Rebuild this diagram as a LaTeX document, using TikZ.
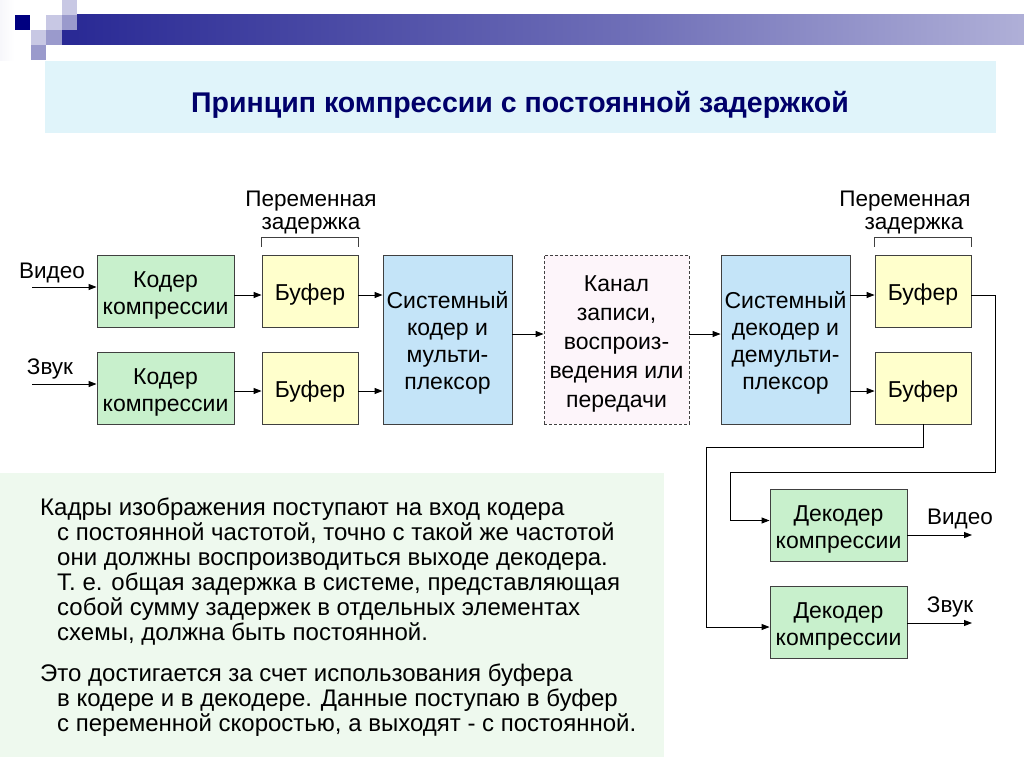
\documentclass[tikz,border=0pt]{standalone}
\usepackage{fontspec}
\setmainfont{Liberation Sans}
\usetikzlibrary{arrows.meta}
\definecolor{navy}{HTML}{000080}
\definecolor{barmid}{HTML}{7070B8}
\definecolor{sqlight}{HTML}{C8C8E4}
\definecolor{sqmed}{HTML}{9A9ACC}
\definecolor{titleband}{HTML}{E0F4FA}
\definecolor{titletext}{HTML}{00006A}
\definecolor{notepanel}{HTML}{EEF9EE}
\definecolor{gfill}{HTML}{C8F0CC}
\definecolor{yfill}{HTML}{FFFFCC}
\definecolor{bfill}{HTML}{C4E4F8}
\definecolor{pfill}{HTML}{FDF5FA}
\definecolor{bord}{HTML}{404040}
\pgfdeclarehorizontalshading{barshade}{100bp}{color(0bp)=(navy); color(8bp)=(navy); color(55bp)=(barmid); color(100bp)=(white)}
\newcommand{\boxtxt}[1]{\raisebox{-4.5pt}[\height][\depth]{\begin{tabular}{@{}c@{}}#1\end{tabular}}}
\begin{document}
\begin{tikzpicture}[x=1pt,y=-1pt,
  basebox/.style={draw=bord, line width=0.9pt, inner sep=0pt,
    font=\fontsize{23}{27}\selectfont},
  coderbox/.style={basebox, fill=gfill, minimum width=137pt, minimum height=72pt},
  bufbox/.style={basebox, fill=yfill, minimum width=96pt, minimum height=72pt},
  sysbox/.style={basebox, fill=bfill, minimum width=129pt, minimum height=169pt},
  chanbox/.style={basebox, fill=pfill, dash pattern=on 3pt off 2pt,
    minimum width=145pt, minimum height=169pt, font=\fontsize{23}{29}\selectfont},
  arr/.style={-{Triangle[length=8pt,width=6pt]}, line width=0.9pt},
  lbl/.style={anchor=base, inner sep=0pt, font=\fontsize{22.5}{25}\selectfont},
  notetext/.style={anchor=base west, inner sep=0pt, font=\fontsize{24}{25}\selectfont},
  bracket/.style={line width=0.9pt, draw=bord}]
\useasboundingbox (0,0) rectangle (1024,768);
\fill[white] (0,0) rectangle (1024,768);
% top decoration
\shade[left color=white!85!sqlight, right color=white] (0,0) rectangle (14,60);
\shade[shading=barshade] (62,15) rectangle (1024,45);
\fill[sqlight] (62,0) rectangle (77,15);
\fill[navy] (15,15) rectangle (30,30);
\fill[sqlight] (46,15) rectangle (62,30);
\fill[sqmed] (62,15) rectangle (77,30);
\fill[sqlight] (31,30) rectangle (46,45);
\fill[sqmed] (46,30) rectangle (62,45);
\fill[sqmed] (31,45) rectangle (46,60);
% title
\fill[titleband] (45,61) rectangle (996,133);
\node[anchor=base, inner sep=0pt, text=titletext, font=\fontsize{28.5}{30}\selectfont\bfseries] (title) at (520,112) {Принцип компрессии с постоянной задержкой};
% note panel
\fill[notepanel] (0,473) rectangle (664,757);
\node[notetext] (t1) at (40,515) {Кадры изображения поступают на вход кодера};
\node[notetext] (t2) at (57,540) {с постоянной частотой, точно с такой же частотой};
\node[notetext] (t3) at (57,565) {они должны воспроизводиться выходе декодера.};
\node[notetext] (t4) at (57,590) {Т. е. общая задержка в системе, представляющая};
\node[notetext] (t5) at (57,615) {собой сумму задержек в отдельных элементах};
\node[notetext] (t6) at (57,640) {схемы, должна быть постоянной.};
\node[notetext] (t7) at (40,681) {Это достигается за счет использования буфера};
\node[notetext] (t8) at (57,706) {в кодере и в декодере. Данные поступаю в буфер};
\node[notetext] (t9) at (57,731) {с переменной скоростью, а выходят - с постоянной.};
% boxes
\node[coderbox] (cod1) at (165.5,291) {\boxtxt{Кодер\\компрессии}};
\node[coderbox] (cod2) at (165.5,388) {\boxtxt{Кодер\\компрессии}};
\node[bufbox] (buf1) at (310,291) {\boxtxt{Буфер}};
\node[bufbox] (buf2) at (310,388) {\boxtxt{Буфер}};
\node[sysbox] (sys) at (447.5,339.5) {\boxtxt{Системный\\кодер и\\мульти-\\плексор}};
\node[chanbox] (kan) at (616.5,339.5) {\boxtxt{Канал\\записи,\\воспроиз-\\ведения или\\передачи}};
\node[sysbox] (sdec) at (785.5,339.5) {\boxtxt{Системный\\декодер и\\демульти-\\плексор}};
\node[bufbox] (buf3) at (923,291) {\boxtxt{Буфер}};
\node[bufbox] (buf4) at (923,388) {\boxtxt{Буфер}};
\node[coderbox] (dec1) at (838.5,525.5) {\boxtxt{Декодер\\компрессии}};
\node[coderbox] (dec2) at (838.5,622) {\boxtxt{Декодер\\компрессии}};
% labels
\node[lbl] (lv) at (52,278) {Видео};
\node[lbl] (la) at (50,374) {Звук};
\node[lbl] (rv) at (960,524) {Видео};
\node[lbl] (ra) at (950,612) {Звук};
\node[lbl] (pz1a) at (311,206) {Переменная};
\node[lbl] (pz1b) at (311,229) {задержка};
\node[lbl] (pz2a) at (905,206) {Переменная};
\node[lbl] (pz2b) at (914,229) {задержка};
% brackets
\draw[bracket] ([yshift=8pt]buf1.north west) -- ++(0,-9) -| ([yshift=8pt]buf1.north east);
\draw[bracket] ([yshift=8pt]buf3.north west) -- ++(0,-9) -| ([yshift=8pt]buf3.north east);
% helper coordinates
\coordinate (ya) at (0,295);
\coordinate (yb) at (0,391);
\coordinate (yc) at (0,334);
\coordinate (vin) at (32,287);
\coordinate (ain) at (32,384);
\coordinate (rA) at (995,472);
\coordinate (rB) at (730,472);
\coordinate (lA) at (706,447);
\coordinate (vout) at (972,535);
\coordinate (aout) at (972,623);
% connectors
\draw[arr] (vin) -- (cod1.west |- vin);
\draw[arr] (ain) -- (cod2.west |- ain);
\draw[arr] (cod1.east |- ya) -- (buf1.west |- ya);
\draw[arr] (buf1.east |- ya) -- (sys.west |- ya);
\draw[arr] (cod2.east |- yb) -- (buf2.west |- yb);
\draw[arr] (buf2.east |- yb) -- (sys.west |- yb);
\draw[arr] (sys.east |- yc) -- (kan.west |- yc);
\draw[arr] (kan.east |- yc) -- (sdec.west |- yc);
\draw[arr] (sdec.east |- ya) -- (buf3.west |- ya);
\draw[arr] (sdec.east |- yb) -- (buf4.west |- yb);
\draw[arr] (buf3.east |- ya) -| (rA) -- (rB) |- ([yshift=5pt]dec1.west);
\draw[arr] (buf4.south) |- (lA) |- ([yshift=-5pt]dec2.west);
\draw[arr] (dec1.east |- vout) -- (vout);
\draw[arr] (dec2.east |- aout) -- (aout);
\end{tikzpicture}
\end{document}
